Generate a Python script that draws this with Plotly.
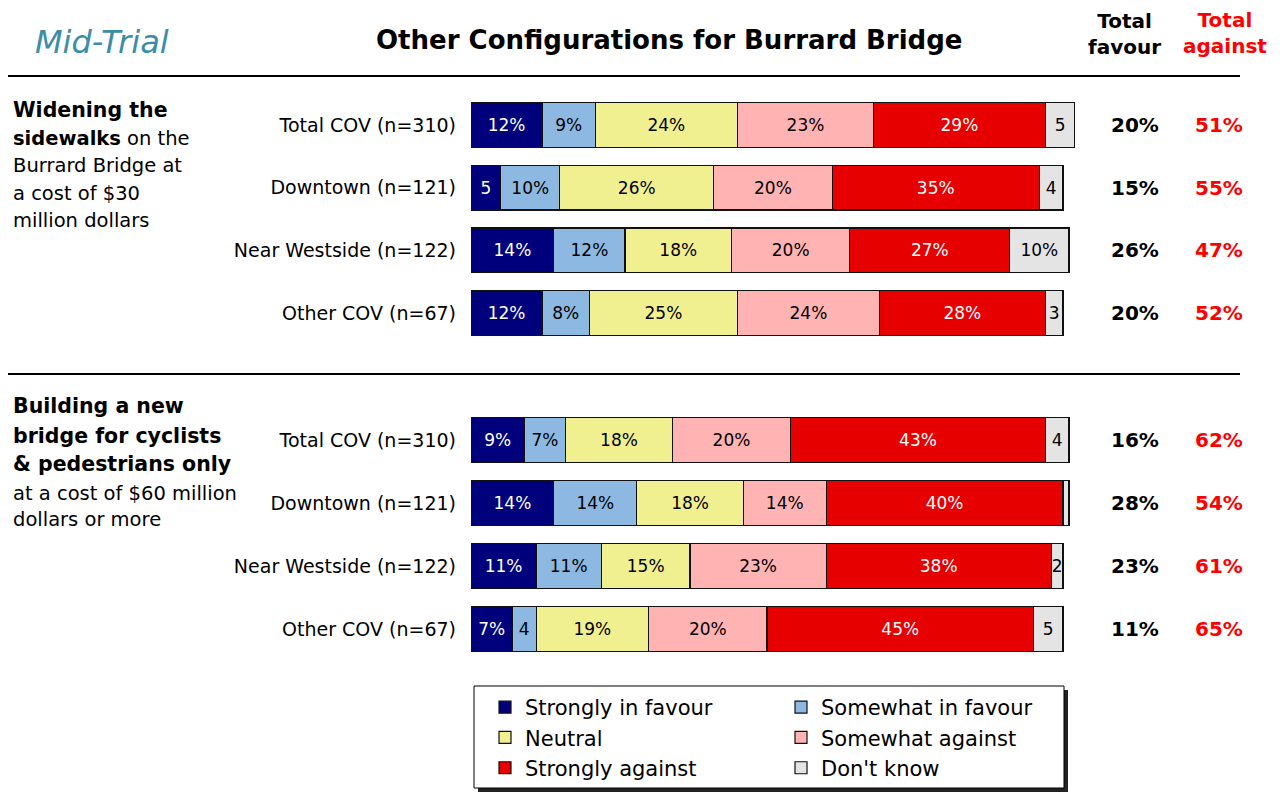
import plotly.graph_objects as go

# ---------------- data ----------------
chart_title = "Other Configurations for Burrard Bridge"
phase_label = "Mid-Trial"
segments = ["Strongly in favour", "Somewhat in favour", "Neutral",
            "Somewhat against", "Strongly against", "Don't know"]
regions = ["Total COV (n=310)", "Downtown (n=121)",
           "Near Westside (n=122)", "Other COV (n=67)"]

# Question 1: widening the sidewalks
sidewalk_strong_favour = [12, 5, 14, 12]
sidewalk_some_favour = [9, 10, 12, 8]
sidewalk_neutral = [24, 26, 18, 25]
sidewalk_some_against = [23, 20, 20, 24]
sidewalk_strong_against = [29, 35, 27, 28]
sidewalk_dont_know = [5, 4, 10, 3]
sidewalk_total_favour = [20, 15, 26, 20]
sidewalk_total_against = [51, 55, 47, 52]

# Question 2: new bridge for cyclists & pedestrians
newbridge_strong_favour = [9, 14, 11, 7]
newbridge_some_favour = [7, 14, 11, 4]
newbridge_neutral = [18, 18, 15, 19]
newbridge_some_against = [20, 14, 23, 20]
newbridge_strong_against = [43, 40, 38, 45]
newbridge_dont_know = [4, 1, 2, 5]
newbridge_total_favour = [16, 28, 23, 11]
newbridge_total_against = [62, 54, 61, 65]

q1_lines = ["<b>Widening the</b>", "<b>sidewalks</b> on the", "Burrard Bridge at",
            "a cost of $30", "million dollars"]
q2_lines = ["<b>Building a new</b>", "<b>bridge for cyclists</b>", "<b>&amp; pedestrians only</b>",
            "at a cost of $60 million", "dollars or more"]

# ---------------- styling ----------------
FONT = "DejaVu Sans"
W, H = 1280, 792
ML, PW = 471, 608           # plot area left / width in px
MR = W - ML - PW

seg_colors = ["#00007C", "#8CB8E2", "#F0F090", "#FFB3B3", "#E60000", "#E4E4E4"]
txt_colors = ["white", "black", "black", "black", "white", "black"]


def px_x(px):
    return (px - ML) / PW


def px_y(py):
    return 1 - py / H


def seg_label(v):
    if v >= 6:
        return f"{v}%"
    if v >= 2:
        return f"{v}"
    return ""


q1 = [sidewalk_strong_favour, sidewalk_some_favour, sidewalk_neutral,
      sidewalk_some_against, sidewalk_strong_against, sidewalk_dont_know]
q2 = [newbridge_strong_favour, newbridge_some_favour, newbridge_neutral,
      newbridge_some_against, newbridge_strong_against, newbridge_dont_know]

fig = go.Figure()
for qi, (qdata, xa, ya) in enumerate([(q1, "x", "y"), (q2, "x2", "y2")]):
    for si, name in enumerate(segments):
        vals = qdata[si]
        fig.add_trace(go.Bar(
            orientation="h", y=regions, x=vals, name=name,
            xaxis=xa, yaxis=ya,
            marker=dict(color=seg_colors[si], line=dict(color="#111111", width=1.2)),
            text=[seg_label(v) for v in vals],
            textposition="inside", insidetextanchor="middle", textangle=0,
            textfont=dict(family=FONT, size=17, color=txt_colors[si]),
            cliponaxis=False,
            showlegend=(qi == 0), legendgroup=name,
            hovertemplate="%{y}<br>" + name + ": %{x}%<extra></extra>",
        ))

axis_common_x = dict(range=[0, PW / 5.92], visible=False, fixedrange=True, domain=[0, 1])
axis_common_y = dict(type="category", categoryorder="array", categoryarray=regions,
                     autorange="reversed", showgrid=False, zeroline=False, showline=False,
                     ticks="", ticklabelstandoff=14,
                     tickfont=dict(family=FONT, size=19, color="black"))

fig.update_layout(
    width=W, height=H,
    margin=dict(l=ML, r=MR, t=0, b=0),
    paper_bgcolor="white", plot_bgcolor="white",
    barmode="stack", bargap=0.29,
    uniformtext=dict(minsize=17, mode="show"),
    xaxis=dict(anchor="y", **axis_common_x),
    xaxis2=dict(anchor="y2", **axis_common_x),
    yaxis=dict(anchor="x", domain=[px_y(344.4), px_y(93.6)], **axis_common_y),
    yaxis2=dict(anchor="x2", domain=[px_y(660.4), px_y(408.6)], **axis_common_y),
    legend=dict(orientation="h", x=px_x(485), xanchor="left", y=px_y(687), yanchor="top",
                entrywidth=251, entrywidthmode="pixels",
                bgcolor="rgba(0,0,0,0)", borderwidth=0,
                font=dict(family=FONT, size=21, color="black"), traceorder="normal"),
    font=dict(family=FONT, color="black"),
)

shapes = []
# horizontal separators
for py in (76, 374):
    shapes.append(dict(type="line", xref="paper", yref="paper",
                       x0=px_x(8), x1=px_x(1240), y0=px_y(py), y1=px_y(py),
                       line=dict(color="black", width=2)))
# legend box with shadow
shapes.append(dict(type="rect", xref="paper", yref="paper", layer="below",
                   x0=px_x(478), x1=px_x(1068), y0=px_y(792), y1=px_y(690),
                   fillcolor="#222222", line=dict(width=0)))
shapes.append(dict(type="rect", xref="paper", yref="paper", layer="below",
                   x0=px_x(474), x1=px_x(1064), y0=px_y(788), y1=px_y(686),
                   fillcolor="white", line=dict(color="black", width=1)))
fig.update_layout(shapes=shapes)

ann = []
ann.append(dict(text=f"<b>{chart_title}</b>", xref="paper", yref="paper",
                x=px_x(669), y=px_y(40), xanchor="center", yanchor="middle", showarrow=False,
                font=dict(family=FONT, size=26, color="black")))
ann.append(dict(text=f"<i>{phase_label}</i>", xref="paper", yref="paper",
                x=px_x(33), y=px_y(42), xanchor="left", yanchor="middle", showarrow=False,
                font=dict(family=FONT, size=32, color="#3C8DA8")))
ann.append(dict(text="<b>Total<br>favour</b>", xref="paper", yref="paper",
                x=px_x(1124), y=px_y(34), xanchor="center", yanchor="middle", showarrow=False,
                font=dict(family=FONT, size=20, color="black")))
ann.append(dict(text="<b>Total<br>against</b>", xref="paper", yref="paper",
                x=px_x(1225), y=px_y(33), xanchor="center", yanchor="middle", showarrow=False,
                font=dict(family=FONT, size=20, color="#FF0000")))

for lines, ys in ((q1_lines, [110, 138, 166, 193, 220]), (q2_lines, [406, 436, 464, 493, 519])):
    for t, py in zip(lines, ys):
        bold_only = t.startswith("<b>") and t.endswith("</b>")
        ann.append(dict(text=t, xref="paper", yref="paper", x=px_x(11), y=px_y(py),
                        xanchor="left", yanchor="middle", showarrow=False, align="left",
                        font=dict(family=FONT, size=20.5 if bold_only else 19.5, color="black")))

for ya, fav, ag in (("y", sidewalk_total_favour, sidewalk_total_against),
                    ("y2", newbridge_total_favour, newbridge_total_against)):
    for r, f, a in zip(regions, fav, ag):
        ann.append(dict(text=f"<b>{f}%</b>", xref="paper", yref=ya, x=px_x(1135), y=r,
                        xanchor="center", yanchor="middle", showarrow=False,
                        font=dict(family=FONT, size=20, color="black")))
        ann.append(dict(text=f"<b>{a}%</b>", xref="paper", yref=ya, x=px_x(1219), y=r,
                        xanchor="center", yanchor="middle", showarrow=False,
                        font=dict(family=FONT, size=20, color="#FF0000")))
fig.update_layout(annotations=ann)

fig.write_html("out.html", config={"displayModeBar": False},
               post_script="document.body.style.margin='0px';document.body.style.overflow='hidden';")
